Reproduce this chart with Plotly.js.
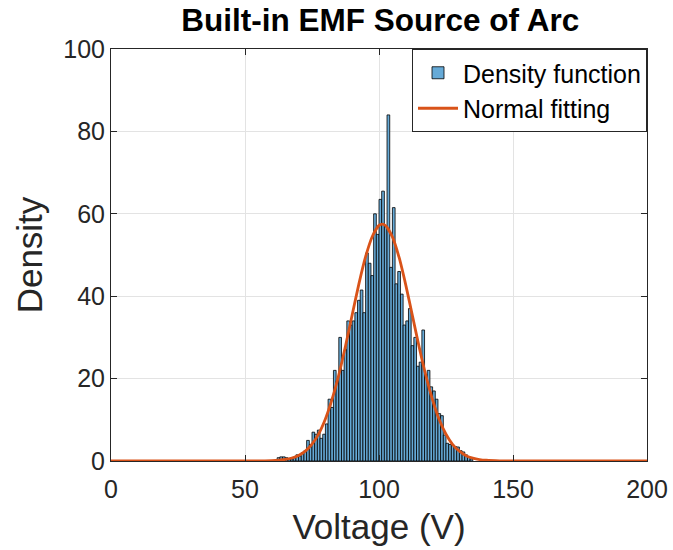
<!DOCTYPE html>
<html>
<head>
<meta charset="utf-8">
<script src="https://cdn.plot.ly/plotly-3.0.1.min.js"></script>
<style>html,body{margin:0;padding:0;background:#fff;}#chart{width:673px;height:550px;}</style>
</head>
<body>
<div id="chart"></div>
<script>
// Histogram bins (1 V wide), left edges and densities
const binStarts = [62,63,64,65,66,67,68,69,70,71,72,73,74,75,76,77,78,79,80,81,82,83,84,85,86,87,88,89,90,91,92,93,94,95,96,97,98,99,100,101,102,103,104,105,106,107,108,109,110,111,112,113,114,115,116,117,118,119,120,121,122,123,124,125,126,127,128,129,130,131,132,133,134];
const density = [0.8,1,1,0.8,0.5,0.5,0.8,1.5,1.2,2,2.5,5,4,7,6.5,7.5,5.5,6.5,9,15,13,22,19.5,30,22,27,34,33,34,36,39,41.5,36,50.5,48,45,60,55,63.5,65.5,57,84,47,61.5,43,46,40.5,33,34,37,28,30,23,24,31.8,21,22,18,17,15,11.5,11,6.3,4.3,4,3.9,3.5,3.4,2.5,2.2,1.5,1,0.5];
// Normal fitting curve
const fitX = [0,50,55,60,62.5,65,67.5,70,72.5,75,77.5,80,82.5,85,87.5,90,92.5,95,97.5,100,101.2,102.5,105,107.5,110,112.5,115,117.5,120,122.5,125,127.5,130,132.5,135,137.5,140,145,150,200];
const fitY = [0,0,0.01,0.08,0.18,0.37,0.73,1.36,2.4,4.1,6.6,10.2,15.0,20.9,27.9,35.5,43.0,49.6,54.5,57.2,57.5,57.1,54.4,49.4,42.7,35.2,27.6,20.7,14.8,10.0,6.5,4.0,2.4,1.3,0.7,0.36,0.18,0.04,0.01,0];
const xTicks = [0,50,100,150,200];
const yTicks = [0,20,40,60,80,100];

const binCenters = binStarts.map(b => b + 0.5);
const font = 'Liberation Sans, Arial, Helvetica, sans-serif';

const traces = [
  {
    type: 'bar', x: binCenters, y: density, width: 1,
    name: 'Density function',
    marker: {color: 'rgb(102,170,215)', line: {color: '#000000', width: 0.8}},
    hoverinfo: 'x+y'
  },
  {
    type: 'scatter', mode: 'lines', x: fitX, y: fitY,
    name: 'Normal fitting',
    line: {color: '#D95319', width: 2.8, shape: 'spline', smoothing: 0.6}
  }
];

const layout = {
  width: 673, height: 550,
  margin: {l: 111, r: 26, t: 49, b: 89},
  paper_bgcolor: '#ffffff', plot_bgcolor: '#ffffff',
  font: {family: font, color: '#262626', size: 20},
  title: {text: '<b>Built-in EMF Source of Arc</b>', x: 0.565, xanchor: 'center', y: 0.963, yanchor: 'middle',
          font: {family: font, size: 31.5, color: '#000000'}},
  showlegend: true,
  legend: {x: 1, y: 1, xanchor: 'right', yanchor: 'top', bgcolor: '#ffffff',
           bordercolor: '#262626', borderwidth: 1, font: {family: font, size: 25, color: '#000000'},
           tracegroupgap: 0, itemwidth: 40},
  bargap: 0,
  xaxis: {
    range: [0, 200], tickvals: xTicks, ticktext: xTicks.map(String),
    showgrid: true, gridcolor: '#e3e3e3', gridwidth: 1, zeroline: false,
    showline: true, linecolor: '#262626', linewidth: 1, mirror: 'ticks',
    ticks: 'inside', ticklen: 6, tickcolor: '#262626', ticklabelstandoff: 6,
    tickfont: {family: font, size: 25, color: '#262626'},
    title: {text: 'Voltage (V)', font: {family: font, size: 35, color: '#262626'}, standoff: 12}
  },
  yaxis: {
    range: [0, 100], tickvals: yTicks, ticktext: yTicks.map(String),
    showgrid: true, gridcolor: '#e3e3e3', gridwidth: 1, zeroline: false,
    showline: true, linecolor: '#262626', linewidth: 1, mirror: 'ticks',
    ticks: 'inside', ticklen: 6, tickcolor: '#262626',
    tickfont: {family: font, size: 25, color: '#262626'},
    title: {text: 'Density', font: {family: font, size: 35, color: '#262626'}, standoff: 10}
  }
};

Plotly.newPlot('chart', traces, layout, {displayModeBar: false, staticPlot: true});
</script>
</body>
</html>
